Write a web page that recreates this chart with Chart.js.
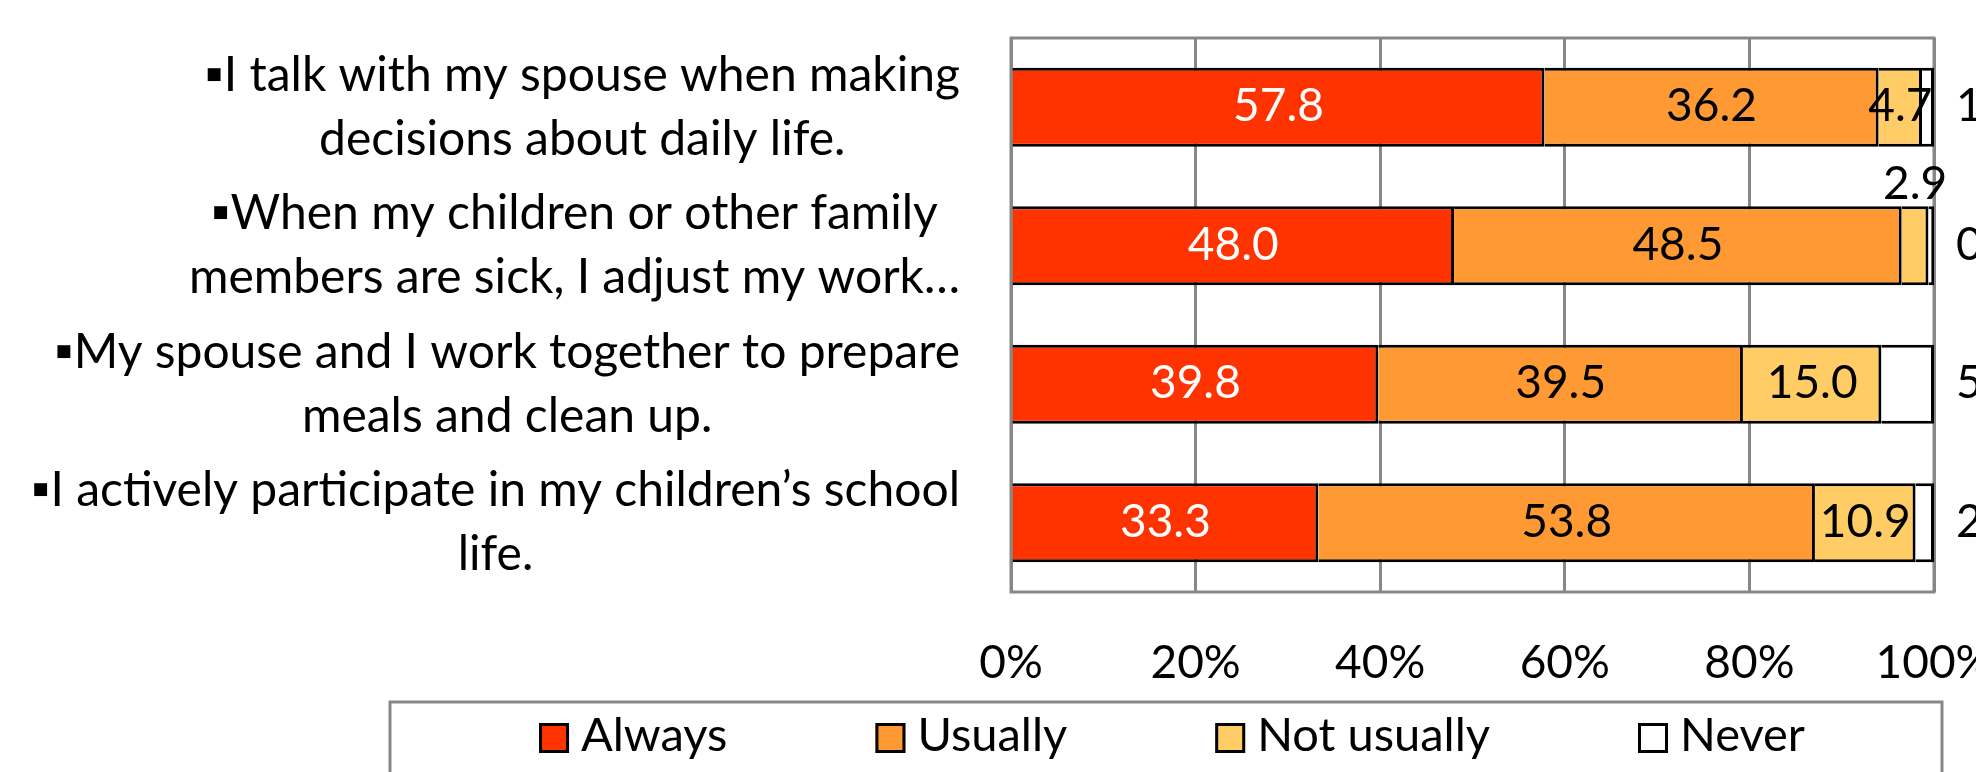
<!DOCTYPE html>
<html>
<head>
<meta charset="utf-8">
<script src="https://cdn.jsdelivr.net/npm/chart.js@4.4.1/dist/chart.umd.min.js"></script>
<style>
  html, body { margin: 0; padding: 0; background: #ffffff; }
  #wrap { width: 1976px; height: 772px; }
</style>
</head>
<body>
<div id="wrap"><canvas id="myChart"></canvas></div>
<script>
// Survey statements, two lines each (as wrapped in the original)
const statements = [
  ['\u25AAI talk with my spouse when making', 'decisions about daily life.'],
  ['\u25AAWhen my children or other family', 'members are sick, I adjust my work\u2026'],
  ['\u25AAMy spouse and I work together to prepare', 'meals and clean up.'],
  ['\u25AAI actively participate in my children\u2019s school', 'life.']
];

// Answer shares (%) per statement
const seriesNames = ['Always', 'Usually', 'Not usually', 'Never'];
const always = [57.8, 48.0, 39.8, 33.3];
const usually = [36.2, 48.5, 39.5, 53.8];
const notUsually = [4.7, 2.9, 15.0, 10.9];
const never = [1.3, 0.6, 5.7, 2.0];

// Axis ticks
const tickValues = [0, 20, 40, 60, 80, 100];

const seriesColors = ['#ff3300', '#ff9933', '#ffcc66', '#ffffff'];
const FONT = 'Lato, "DejaVu Sans", sans-serif';
const GRID_GREY = '#878787';

// Gray frame round the plot area (drawn under the bars)
const plotFrame = {
  id: 'plotFrame',
  beforeDatasetsDraw(chart) {
    const {ctx, chartArea: a} = chart;
    ctx.save();
    ctx.strokeStyle = GRID_GREY;
    ctx.lineWidth = 3;
    ctx.strokeRect(a.left, a.top, a.right - a.left, a.bottom - a.top);
    ctx.restore();
  }
};

// Category labels: each block centred on itself, right edges lined up
const categoryLabels = {
  id: 'categoryLabels',
  afterDraw(chart) {
    const ctx = chart.ctx;
    const yScale = chart.scales.y;
    const rightEdge = 960;
    const lineGap = 64;
    ctx.save();
    ctx.font = `48px ${FONT}`;
    ctx.fillStyle = '#000';
    ctx.textAlign = 'center';
    ctx.textBaseline = 'middle';
    statements.forEach((lines, i) => {
      const yc = yScale.getPixelForValue(i);
      const widest = Math.max(...lines.map(l => ctx.measureText(l).width));
      const cx = rightEdge - widest / 2;
      lines.forEach((line, j) => {
        ctx.fillText(line, cx, yc + (j - (lines.length - 1) / 2) * lineGap);
      });
    });
    ctx.restore();
  }
};

// Value labels on the segments
const valueLabels = {
  id: 'valueLabels',
  afterDatasetsDraw(chart) {
    const ctx = chart.ctx;
    ctx.save();
    ctx.font = `46px ${FONT}`;
    ctx.textBaseline = 'middle';
    chart.data.datasets.forEach((ds, di) => {
      const meta = chart.getDatasetMeta(di);
      meta.data.forEach((bar, i) => {
        const v = ds.data[i];
        const p = bar.getProps(['x', 'y', 'base', 'height'], true);
        let x = (p.x + p.base) / 2;
        let y = p.y - 1;
        ctx.textAlign = 'center';
        if (di === seriesNames.length - 1) {
          // "Never" sits outside, past the 100% line
          x = chart.chartArea.right + 22;
          ctx.textAlign = 'left';
        } else if (v < 4) {
          // too thin, put it above the bar
          y = p.y - p.height / 2 - 22;
        }
        ctx.fillStyle = di === 0 ? '#ffffff' : '#000000';
        ctx.fillText(v.toFixed(1), x, y);
      });
    });
    ctx.restore();
  }
};

// Boxed legend under the axis
const boxedLegend = {
  id: 'boxedLegend',
  afterDraw(chart) {
    const ctx = chart.ctx;
    const box = 30, gap = 12, itemGap = 148, centerX = 1172, centerY = 738;
    ctx.save();
    ctx.strokeStyle = GRID_GREY;
    ctx.lineWidth = 3;
    ctx.strokeRect(390, 702, 1552, 120);
    ctx.font = `47px ${FONT}`;
    ctx.textBaseline = 'middle';
    ctx.textAlign = 'left';
    const items = chart.data.datasets.map(ds => ({
      text: ds.label,
      fill: ds.backgroundColor,
      w: box + gap + ctx.measureText(ds.label).width
    }));
    const total = items.reduce((s, it) => s + it.w, 0) + itemGap * (items.length - 1);
    let x = centerX - total / 2;
    items.forEach(it => {
      ctx.fillStyle = it.fill;
      ctx.fillRect(x, centerY - box / 2, box, box);
      ctx.strokeStyle = '#000';
      ctx.lineWidth = 3;
      ctx.strokeRect(x + 1.5, centerY - box / 2 + 1.5, box - 3, box - 3);
      ctx.fillStyle = '#000';
      ctx.fillText(it.text, x + box + gap, centerY - 2);
      x += it.w + itemGap;
    });
    ctx.restore();
  }
};

const seriesData = [always, usually, notUsually, never];
const ctx = document.getElementById('myChart').getContext('2d');

const myChart = new Chart(ctx, {
  type: 'bar',
  data: {
    labels: statements,
    datasets: seriesNames.map((name, k) => ({
      label: name,
      data: seriesData[k],
      backgroundColor: seriesColors[k],
      borderColor: '#000000',
      borderWidth: 3,
      barPercentage: 0.57,
      categoryPercentage: 1
    }))
  },
  options: {
    indexAxis: 'y',
    responsive: true,
    maintainAspectRatio: false,
    animation: false,
    devicePixelRatio: 1,
    layout: {
      autoPadding: false,
      padding: { left: 1011, right: 42, top: 38, bottom: 0 }
    },
    scales: {
      x: {
        stacked: true,
        min: 0,
        max: 100,
        afterBuildTicks: axis => {
          axis.ticks = tickValues.map(v => ({ value: v }));
        },
        afterFit: axis => {
          // keep the plot box where it is in the original; "100%" may run off the edge
          axis.paddingLeft = 0;
          axis.paddingRight = 0;
          axis.height = 180;
        },
        grid: { color: GRID_GREY, lineWidth: 3, drawTicks: false },
        border: { display: false },
        ticks: {
          padding: 44,
          color: '#000',
          font: { family: FONT, size: 46 },
          maxRotation: 0,
          callback: v => v + '%'
        }
      },
      y: {
        stacked: true,
        display: false
      }
    },
    plugins: {
      legend: { display: false },
      tooltip: { enabled: false }
    }
  },
  plugins: [plotFrame, valueLabels, categoryLabels, boxedLegend]
});
</script>
</body>
</html>
